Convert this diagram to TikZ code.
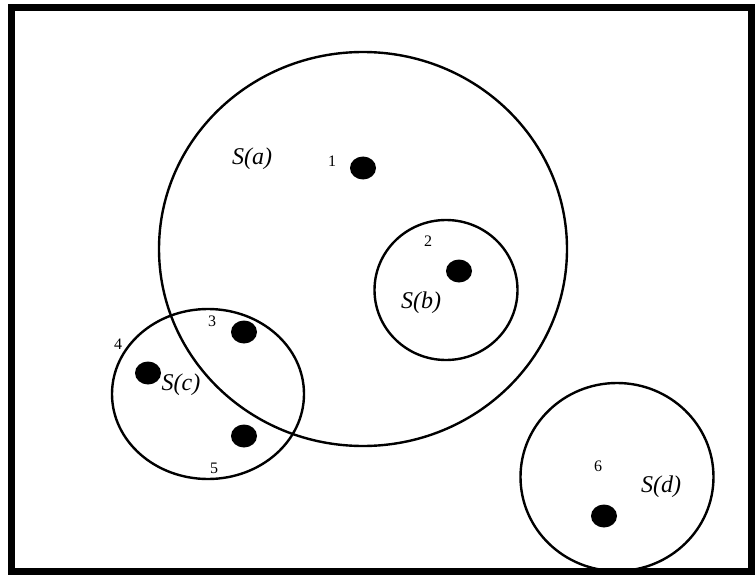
\documentclass[tikz,border=0pt]{standalone}
\usepackage{fontspec}
\setmainfont{Liberation Serif}
\usetikzlibrary{shapes.geometric}
\begin{document}
\begin{tikzpicture}[x=1pt,y=-1pt,
  set/.style={ellipse,draw,line width=2.4pt,inner sep=0pt,outer sep=0pt},
  pt/.style={ellipse,fill=black,inner sep=0pt,minimum width=26pt,minimum height=23pt},
  num/.style={inner sep=0pt,font=\fontsize{16}{16}\selectfont},
  lab/.style={inner sep=0pt,font=\fontsize{24}{24}\selectfont\itshape}]
\useasboundingbox (0,0) rectangle (755,575);
\draw[line width=7pt] (11.5,8) rectangle (751.5,571.5);
% sets
\node[set,minimum width=408pt,minimum height=394pt] (Sa) at (363,249) {};
\node[set,minimum width=143pt,minimum height=140pt] (Sb) at (446,290) {};
\node[set,minimum width=192pt,minimum height=170pt] (Sc) at (208,394) {};
\node[set,minimum width=193pt,minimum height=188pt] (Sd) at (617,477) {};
% points
\node[pt] (p1) at (363,168) {};
\node[pt] (p2) at (459,271) {};
\node[pt] (p3) at (244,332) {};
\node[pt] (p4) at (148,373) {};
\node[pt] (p5) at (244,436) {};
\node[pt] (p6) at (604,516) {};
% numbers
\node[num] (n1) at (332,161) {1};
\node[num] (n2) at (428,241) {2};
\node[num] (n3) at (212,321) {3};
\node[num] (n4) at (118,344) {4};
\node[num] (n5) at (214,468) {5};
\node[num] (n6) at (598,466) {6};
% labels
\node[lab] (la) at (252,159) {S(a)};
\node[lab] (lb) at (421,303) {S(b)};
\node[lab] (lc) at (181,385) {S(c)};
\node[lab] (ld) at (661,487) {S(d)};
\end{tikzpicture}
\end{document}
